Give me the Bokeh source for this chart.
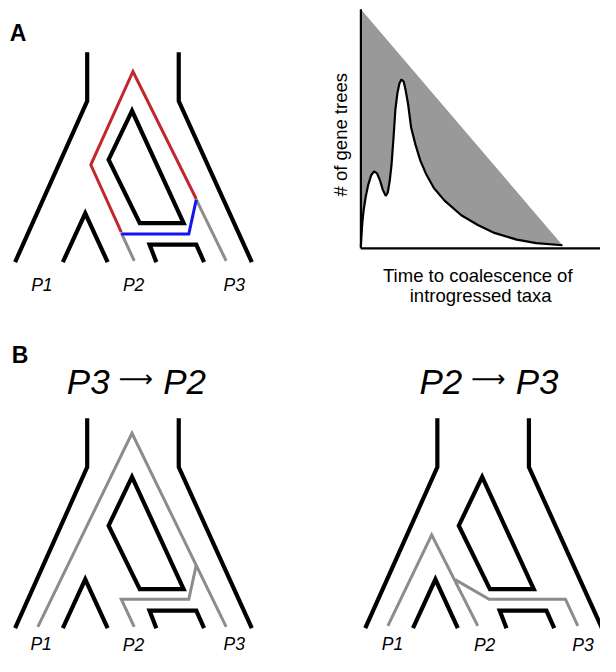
from bokeh.plotting import figure
from bokeh.models import Range1d
from bokeh.core.properties import value
from bokeh.embed import file_html
from bokeh.resources import INLINE

FONT = value("Liberation Sans")

# ---------------- species tree (panel A frame coordinates) ----------------
TREE_XS = [[89, 89, 15], [183, 183, 258], [64, 87, 110], [160, 153, 201, 209]]
TREE_YS = [[53, 103, 268], [53, 103, 268], [268, 218, 268], [268, 250, 250, 268]]
LOOP_X = [135, 111, 143, 188]
LOOP_Y = [113, 163, 228, 228]
PANEL_DX = [0, 0, 359.5]
PANEL_DY = [0, 375, 375]

# gene-tree paths
A_GRAY_XS = [[124, 137.3], [201, 231.7]]
A_GRAY_YS = [[238, 266.7], [204, 266.7]]
A_RED_X = [124, 92.7, 136, 201]
A_RED_Y = [237.3, 168.3, 72.7, 203.3]
A_BLUE_X = [124, 193.3, 201]
A_BLUE_Y = [239.3, 239.3, 204]
BL_GRAY_XS = [[38.3, 135, 231.7], [137.3, 124, 193.3, 201]]
BL_GRAY_YS = [[641.7, 443.3, 641.7], [641.7, 613.3, 613.3, 578.3]]
BR_GRAY_XS = [[397.7, 442.7, 490], [466.7, 501.7, 580, 592.7]]
BR_GRAY_YS = [[640.7, 547.3, 640.7], [593.3, 613.3, 613.3, 640.7]]

# ---------------- coalescence-time chart data ----------------
T_MAX = 10.0
DIAG_T = [0.0, 10.0]
DIAG_C = [100.0, 1.35]
CURVE_T = [0.00, 0.03, 0.07, 0.14, 0.24, 0.36, 0.51, 0.65, 0.80, 0.94, 1.09, 1.23,
           1.33, 1.43, 1.52, 1.62, 1.71, 1.81, 1.91, 2.01, 2.12, 2.22, 2.34, 2.49,
           2.71, 2.95, 3.24, 3.62, 4.15, 4.98, 5.80, 6.62, 7.73, 8.70, 10.0]
CURVE_C = [0.8, 5.7, 10.6, 16.3, 21.6, 26.5, 30.6, 32.2, 31.4, 28.6, 24.5, 22.0,
           23.3, 28.2, 35.1, 46.5, 58.0, 64.9, 69.0, 70.6, 69.8, 66.1, 60.4, 50.6,
           43.3, 36.7, 31.0, 25.3, 20.0, 13.9, 9.8, 6.5, 3.7, 2.2, 1.35]

# ---------------- figure (reference frame 616 x 672 squeezed into 600 x 656) ----------------
W, H = 600, 656
RW, RH = 616, 672
p = figure(width=W, height=H, x_range=Range1d(0, RW), y_range=Range1d(RH, 0),
           output_backend="svg", toolbar_location=None, min_border=0,
           x_axis_location=None, y_axis_location=None)
p.grid.visible = False
p.outline_line_color = None
p.background_fill_color = "white"
p.border_fill_color = "white"

# chart ranges: t=0 at x=370, t=10 at x=577; c=0 at y=254, c=100 at y=9
ppt = (577 - 370) / T_MAX
ppc = (254 - 9) / 100.0
p.extra_x_ranges = {"t": Range1d((0 - 370) / ppt, (RW - 370) / ppt)}
p.extra_y_ranges = {"c": Range1d((254 - RH) / ppc, (254 - 0) / ppc)}

# black species trees
for dx, dy in zip(PANEL_DX, PANEL_DY):
    p.multi_line([[x + dx for x in xs] for xs in TREE_XS],
                 [[y + dy for y in ys] for ys in TREE_YS],
                 line_color="black", line_width=4.2, line_join="miter", line_cap="butt")
    p.patch([x + dx for x in LOOP_X], [y + dy for y in LOOP_Y],
            fill_color=None, line_color="black", line_width=4.2, line_join="miter")

GRAY = "#8c8c8c"
p.multi_line(A_GRAY_XS, A_GRAY_YS, line_color=GRAY, line_width=3, line_cap="butt")
p.line(A_RED_X, A_RED_Y, line_color="#c1272d", line_width=3, line_join="miter")
p.line(A_BLUE_X, A_BLUE_Y, line_color="#1414f0", line_width=3, line_join="miter")
p.multi_line(BL_GRAY_XS, BL_GRAY_YS, line_color=GRAY, line_width=3, line_join="miter", line_cap="butt")
p.multi_line(BR_GRAY_XS, BR_GRAY_YS, line_color=GRAY, line_width=3, line_join="miter", line_cap="butt")

# chart
poly_t = DIAG_T + CURVE_T[::-1]
poly_c = DIAG_C + CURVE_C[::-1]
p.patch(poly_t, poly_c, fill_color="#999999", line_color=None, x_range_name="t", y_range_name="c")
p.line(CURVE_T, CURVE_C, line_color="black", line_width=2.2, x_range_name="t", y_range_name="c")
p.line([0, 0], [0, 100], line_color="black", line_width=2.2, x_range_name="t", y_range_name="c")
p.line([0, 12.5], [0, 0], line_color="black", line_width=2.2, x_range_name="t", y_range_name="c")

# texts
def txt(x, y, s, size, style="normal", align="center", angle=0, font=FONT):
    p.text([x], [y], text=[s], text_font=font, text_font_size=size, text_font_style=style,
           text_align=align, text_baseline="alphabetic", text_color="black", angle=angle)

txt(9.5, 33, "A", "23px", "bold", "left")
txt(11.5, 363, "B", "23px", "bold", "left")

LABELS = ["P1", "P2", "P3"]
for s, x in zip(LABELS, [42.5, 136.7, 240]):
    txt(x, 291.5, s, "17.5px", "italic")
for s, x, y in zip(LABELS, [41.7, 136.5, 240], [659, 660, 659]):
    txt(x, y, s, "17.5px", "italic")
for s, x, y in zip(LABELS, [402.5, 497, 598], [659, 660, 660]):
    txt(x, y, s, "17.5px", "italic")

# titles: "P3 → P2" and "P2 → P3"
txt(112, 390, "P3", "35px", "italic", "right")
txt(139, 388, "\u27f6", "24px", "normal", "center", font=value("DejaVu Sans"))
txt(167, 390, "P2", "35px", "italic", "left")
txt(474, 390, "P2", "35px", "italic", "right")
txt(501, 388, "\u27f6", "24px", "normal", "center", font=value("DejaVu Sans"))
txt(529, 390, "P3", "35px", "italic", "left")

txt(349, 137.5, "# of gene trees", "18.5px", "normal", "center", angle=1.5708)
txt(490, 281.5, "Time to coalescence of", "18.5px")
txt(493, 302.5, "introgressed taxa", "18.5px")

open("out.html", "w").write(file_html(p, INLINE))
